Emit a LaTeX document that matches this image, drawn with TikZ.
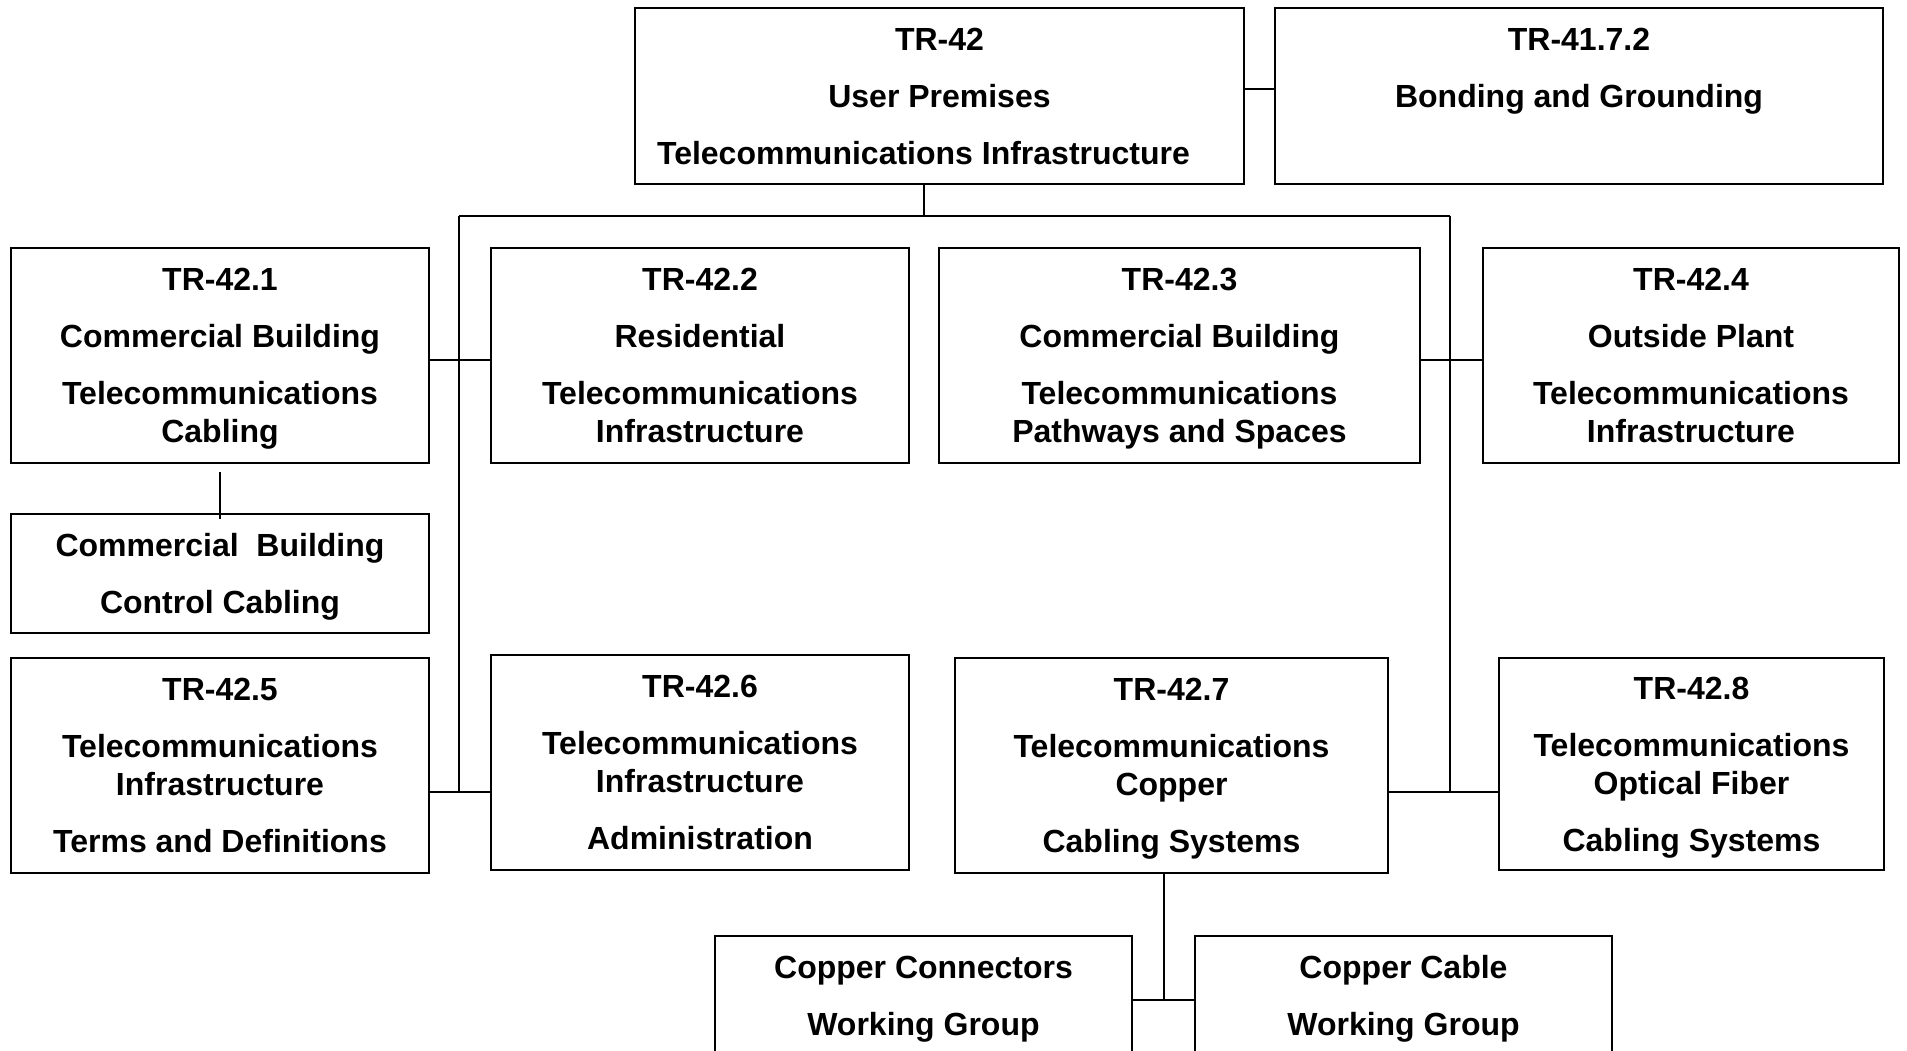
\documentclass[tikz,border=0pt]{standalone}
\usepackage{fontspec}
\setmainfont{Liberation Sans}
\usepackage{amsmath}
\usepackage{tikz}
\usetikzlibrary{positioning, calc}
\newcommand{\grpfont}{\fontsize{32}{38}\selectfont\bfseries}
\newcommand{\lastline}[1]{\smash[b]{#1}}

\begin{document}
\begin{tikzpicture}[x=1pt, y=1pt,
  grp/.style={draw, line width=2.5pt, align=center, font=\grpfont,
    inner sep=0pt, outer sep=0pt, minimum height=215pt},
  wire/.style={line width=2pt}]

  \useasboundingbox (0,0) rectangle (1907,-1050);
  \clip (0,0) rectangle (1907,-1050);
  \fill[white] (0,0) rectangle (1907,-1050);

  \node[grp, minimum width=609pt, minimum height=176pt] (tr42) at (939.5,-96) {
    TR-42\\[19pt]User Premises\\[19pt]Telecommunications Infrastructure\hspace*{32pt}};
  \node[grp, minimum width=608pt, minimum height=176pt, right=31pt of tr42] (tr4172) {
    TR-41.7.2\\[19pt]Bonding and Grounding\\[19pt]~};

  \node[grp, minimum width=418pt] (tr421) at (220,-355.5) {
    TR-42.1\\[19pt]Commercial Building\\[19pt]Telecommunications\\\lastline{Cabling}};
  \node[grp, minimum width=418pt, right=62pt of tr421] (tr422) {
    TR-42.2\\[19pt]Residential\\[19pt]Telecommunications\\Infrastructure};
  \node[grp, minimum width=481pt, right=30pt of tr422] (tr423) {
    TR-42.3\\[19pt]Commercial Building\\[19pt]Telecommunications\\\lastline{Pathways and Spaces}};
  \node[grp, minimum width=416pt, right=63pt of tr423] (tr424) {
    TR-42.4\\[19pt]Outside Plant\\[19pt]Telecommunications\\Infrastructure};

  \node[grp, minimum width=418pt, minimum height=119pt, below=51pt of tr421] (ctrl) {
    Commercial~ Building\\[19pt]\lastline{Control Cabling}};

  \node[grp, minimum width=418pt, below=25pt of ctrl] (tr425) {
    TR-42.5\\[19pt]Telecommunications\\Infrastructure\\[19pt]Terms and Definitions};
  \node[grp, minimum width=418pt, right=62pt of tr425, yshift=3pt] (tr426) {
    TR-42.6\\[19pt]Telecommunications\\Infrastructure\\[19pt]Administration};
  \node[grp, minimum width=433pt, right=46pt of tr426, yshift=-3pt] (tr427) {
    TR-42.7\\[19pt]Telecommunications\\Copper\\[19pt]\lastline{Cabling Systems}};
  \node[grp, minimum width=385pt, minimum height=212pt, right=111pt of tr427, yshift=1.5pt] (tr428) {
    TR-42.8\\[19pt]Telecommunications\\Optical Fiber\\[19pt]\lastline{Cabling Systems}};

  \node[grp, minimum width=417pt, minimum height=119pt] (conn) at (923.5,-995.5) {
    Copper Connectors\\[19pt]\lastline{Working Group}};
  \node[grp, minimum width=417pt, minimum height=119pt, right=63pt of conn] (cable) {
    Copper Cable\\[19pt]\lastline{Working Group}};

  \coordinate (busL) at (459,-216);
  \coordinate (busR) at (1450,-216);
  \coordinate (midL) at ([yshift=-4.5pt]tr421.east);
  \coordinate (midR) at ([yshift=-4.5pt]tr423.east);
  \coordinate (lowL) at ([yshift=-26pt]tr425.east);
  \coordinate (lowR) at ([yshift=-26pt]tr427.east);
  \coordinate (cu) at ($([yshift=-4.5pt]conn.east)!.5!([yshift=-4.5pt]cable.west)$);

  \draw[wire] ([yshift=7.5pt]tr42.east) -- ([yshift=7.5pt]tr4172.west);
  \draw[wire] ([xshift=-16pt]tr42.south) -- ([xshift=-16pt]tr42.south |- busL);
  \draw[wire] (busL) -- (busR);
  \draw[wire] (busL) -- (busL |- lowL);
  \draw[wire] (busR) -- (busR |- lowR);
  \draw[wire] (midL) -- (midL -| tr422.west);
  \draw[wire] (midR) -- (midR -| tr424.west);
  \draw[wire] ([yshift=-9pt]tr421.south) -- ([yshift=-5pt]ctrl.north);
  \draw[wire] (lowL) -- (lowL -| tr426.west);
  \draw[wire] (lowR) -- (lowR -| tr428.west);
  \draw[wire] (tr427.south -| cu) -- (cu);
  \draw[wire] (cu -| conn.east) -- (cu -| cable.west);
\end{tikzpicture}
\end{document}
